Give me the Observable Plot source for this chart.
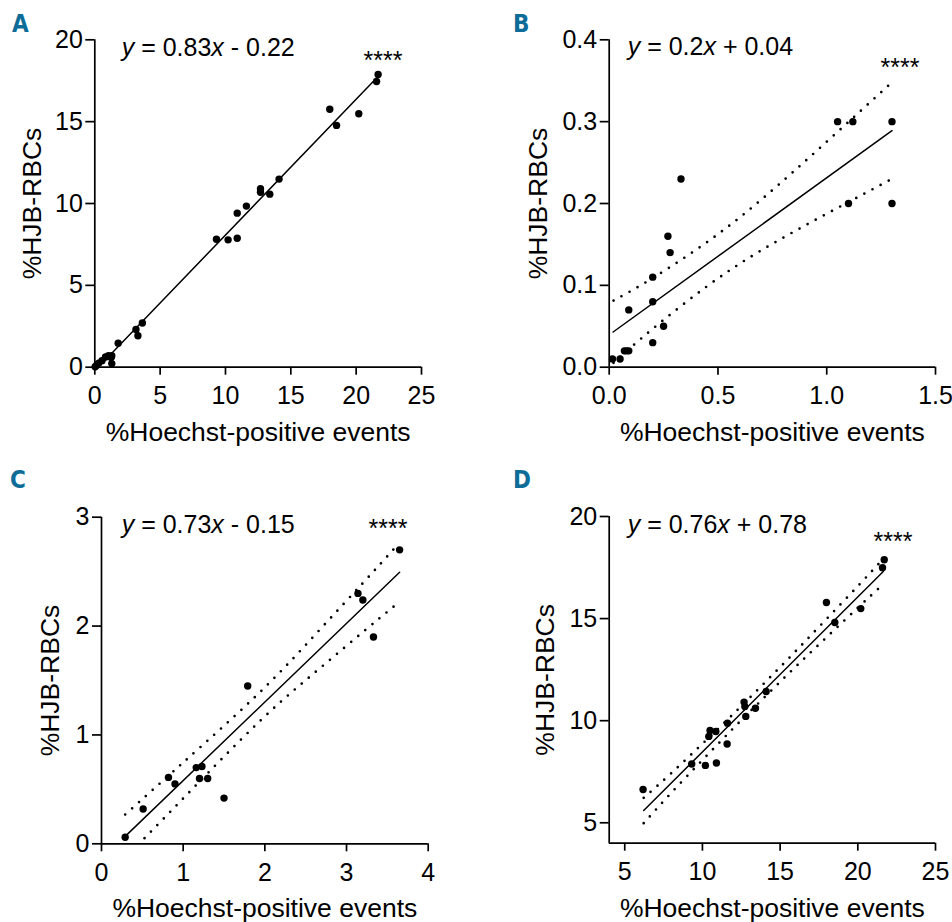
<!DOCTYPE html>
<html><head><meta charset="utf-8">
<script src="https://cdn.jsdelivr.net/npm/d3@7"></script>
<script src="https://cdn.jsdelivr.net/npm/@observablehq/plot@0.6"></script>
<style>
body{margin:0;background:#fff;}
#wrap{position:relative;width:952px;height:922px;overflow:hidden;background:#fff;}
.panel{position:absolute;}
#letters{position:absolute;left:0;top:0;pointer-events:none;}
</style></head><body><div id="wrap"></div>
<script>
// ---------- Data ----------
const xLabel = "%Hoechst-positive events";
const yLabel = "%HJB-RBCs";
const panelLetters = ["A", "B", "C", "D"];
const stars = "****";

// Panel A
const aX = [21.68, 21.56, 17.98, 18.50, 20.20, 14.10, 12.68, 12.68, 13.39, 11.60, 10.90, 9.31, 10.20, 10.90, 3.64, 3.15, 3.30, 1.79, 1.30, 1.05, 0.82, 1.25, 1.30, 0.55, 0.30, 0.15, 0.03];
const aY = [17.88, 17.45, 15.76, 14.77, 15.48, 11.49, 10.90, 10.69, 10.57, 9.84, 9.41, 7.82, 7.78, 7.88, 2.70, 2.30, 1.92, 1.47, 0.70, 0.71, 0.62, 0.60, 0.22, 0.40, 0.25, 0.12, 0.03];
const aLineX = [0.27, 21.6];
const aLineY = [0.0, 17.7];
const aXTicks = [0, 5, 10, 15, 20, 25];
const aXTickLabels = ["0", "5", "10", "15", "20", "25"];
const aYTicks = [0, 5, 10, 15, 20];
const aYTickLabels = ["0", "5", "10", "15", "20"];
const aEq = [["y", true], [" = 0.83", false], ["x", true], [" - 0.22", false]];

// Panel B
const bX = [1.05, 1.12, 1.30, 1.10, 1.30, 0.33, 0.27, 0.28, 0.20, 0.20, 0.09, 0.25, 0.20, 0.07, 0.08, 0.09, 0.015, 0.05];
const bY = [0.30, 0.30, 0.30, 0.20, 0.20, 0.23, 0.16, 0.14, 0.11, 0.08, 0.07, 0.05, 0.03, 0.02, 0.02, 0.02, 0.01, 0.01];
const bLineX = [0.018, 1.30];
const bLineY = [0.043, 0.289];
const bBandX = [0.02, 0.2, 0.45, 0.7, 1.0, 1.3];
const bBandLo = [0.0054, 0.0469, 0.0989, 0.1429, 0.1875, 0.2301];
const bBandHi = [0.0814, 0.1089, 0.1529, 0.2049, 0.2755, 0.3481];
const bXTicks = [0, 0.5, 1.0, 1.5];
const bXTickLabels = ["0.0", "0.5", "1.0", "1.5"];
const bYTicks = [0, 0.1, 0.2, 0.3, 0.4];
const bYTickLabels = ["0.0", "0.1", "0.2", "0.3", "0.4"];
const bEq = [["y", true], [" = 0.2", false], ["x", true], [" + 0.04", false]];

// Panel C
const cX = [3.65, 3.14, 3.20, 3.33, 1.79, 0.82, 0.90, 1.16, 1.23, 1.20, 1.30, 1.50, 0.51, 0.29];
const cY = [2.70, 2.30, 2.24, 1.90, 1.45, 0.61, 0.55, 0.70, 0.71, 0.60, 0.60, 0.42, 0.32, 0.06];
const cLineX = [0.29, 3.65];
const cLineY = [0.068, 2.494];
const cBandX = [0.29, 0.8, 1.2, 1.7, 2.2, 2.7, 3.2, 3.62];
const cBandLo = [-0.131, 0.262, 0.571, 0.952, 1.308, 1.629, 1.945, 2.205];
const cBandHi = [0.269, 0.612, 0.881, 1.222, 1.588, 1.989, 2.395, 2.741];
const cXTicks = [0, 1, 2, 3, 4];
const cXTickLabels = ["0", "1", "2", "3", "4"];
const cYTicks = [0, 1, 2, 3];
const cYTickLabels = ["0", "1", "2", "3"];
const cEq = [["y", true], [" = 0.73", false], ["x", true], [" - 0.15", false]];

// Panel D
const dX = [21.70, 21.59, 17.98, 18.52, 20.19, 14.10, 12.68, 12.73, 12.79, 13.41, 11.61, 11.59, 10.49, 10.41, 10.86, 9.31, 10.19, 10.90, 6.18];
const dY = [17.88, 17.49, 15.79, 14.81, 15.49, 11.43, 10.91, 10.69, 10.21, 10.61, 9.88, 8.86, 9.52, 9.23, 9.47, 7.88, 7.81, 7.93, 6.63];
const dLineX = [6.22, 21.64];
const dLineY = [5.60, 17.31];
const dBandX = [6.22, 8, 10, 12, 14, 16, 18, 20, 21.64];
const dBandLo = [4.98, 6.471, 8.069, 9.637, 11.155, 12.643, 14.091, 15.529, 16.684];
const dBandHi = [6.22, 7.431, 8.869, 10.337, 11.855, 13.403, 14.991, 16.589, 17.924];
const dXTicks = [5, 10, 15, 20, 25];
const dXTickLabels = ["5", "10", "15", "20", "25"];
const dYTicks = [5, 10, 15, 20];
const dYTickLabels = ["5", "10", "15", "20"];
const dEq = [["y", true], [" = 0.76", false], ["x", true], [" + 0.78", false]];

// ---------- Drawing ----------
const FONT = "'Liberation Sans', Arial, Helvetica, sans-serif";
const wrap = document.getElementById("wrap");

function zip(xs, ys) { return xs.map((x, i) => ({x, y: ys[i]})); }

function panel(cfg) {
  const m = cfg.margin;
  const marks = [
    Plot.ruleX([cfg.xDomain[0]], {y1: cfg.yDomain[0], y2: cfg.yDomain[1], strokeWidth: 1.7}),
    Plot.ruleY([cfg.yDomain[0]], {x1: cfg.xDomain[0], x2: cfg.xDomain[1], strokeWidth: 1.7}),
    Plot.axisX({ticks: cfg.xTicks, tickSize: 8, tickPadding: 11, strokeWidth: 1.7, fontSize: 25,
      tickFormat: d => cfg.xTickLabels[cfg.xTicks.indexOf(d)], label: null}),
    Plot.axisY({ticks: cfg.yTicks, tickSize: 9, tickPadding: 3, strokeWidth: 1.7, fontSize: 25,
      tickFormat: d => cfg.yTickLabels[cfg.yTicks.indexOf(d)], label: null})
  ];
  if (cfg.bandX) {
    const dotted = {x: "x", y: "y", curve: "natural", stroke: "black", strokeWidth: 2.7,
      strokeDasharray: "0 9.2", strokeLinecap: "round", clip: true};
    marks.push(Plot.line(zip(cfg.bandX, cfg.bandHi), dotted));
    marks.push(Plot.line(zip(cfg.bandX, cfg.bandLo), dotted));
  }
  marks.push(Plot.line(zip(cfg.lineX, cfg.lineY), {x: "x", y: "y", stroke: "black", strokeWidth: 1.5, clip: true}));
  marks.push(Plot.dot(zip(cfg.x, cfg.y), {x: "x", y: "y", r: 3.7, fill: "black", stroke: null}));
  marks.push(Plot.text([xLabel], {text: d => d, frameAnchor: "bottom", lineAnchor: "bottom", textAnchor: "middle",
    dy: 73.4, fontSize: 26.5}));
  marks.push(Plot.text([yLabel], {text: d => d, frameAnchor: "left", textAnchor: "middle", lineAnchor: "middle",
    rotate: -90, dx: cfg.yLabelDx, fontSize: 26.5}));
  marks.push(Plot.text([stars], {text: d => d, frameAnchor: "top-right", textAnchor: "end", lineAnchor: "bottom",
    dx: cfg.starDx, dy: cfg.starDy, fontSize: 25}));

  const svg = Plot.plot({
    width: cfg.w, height: cfg.h,
    marginLeft: m[0], marginRight: m[1], marginTop: m[2], marginBottom: m[3],
    x: {domain: cfg.xDomain},
    y: {domain: cfg.yDomain},
    style: {fontFamily: FONT, fontSize: "25px", color: "black", background: "white", overflow: "visible"},
    marks
  });
  const t = d3.select(svg).append("text")
    .attr("x", m[0] + cfg.eqDx).attr("y", m[2] + cfg.eqDy)
    .attr("text-anchor", "start")
    .attr("font-size", 25).attr("font-family", FONT).attr("fill", "black")
    .style("white-space", "pre");
  cfg.eq.forEach(([s, it]) => t.append("tspan").attr("font-style", it ? "italic" : null).text(s));
  const div = document.createElement("div");
  div.className = "panel";
  div.style.left = cfg.left + "px";
  div.style.top = cfg.top + "px";
  div.appendChild(svg);
  wrap.appendChild(div);
}

panel({left: 0, top: 0, w: 476, h: 461, margin: [94.3, 55, 39.3, 94.3],
  x: aX, y: aY, lineX: aLineX, lineY: aLineY,
  xDomain: [0, 25], yDomain: [0, 20],
  xTicks: aXTicks, xTickLabels: aXTickLabels, yTicks: aYTicks, yTickLabels: aYTickLabels,
  eq: aEq, eqDx: 27.4, eqDy: 16.7, yLabelDx: -62, starDx: -19, starDy: 28.7});

panel({left: 476, top: 0, w: 476, h: 461, margin: [132.7, 17, 39.3, 94.3],
  x: bX, y: bY, lineX: bLineX, lineY: bLineY, bandX: bBandX, bandLo: bBandLo, bandHi: bBandHi,
  xDomain: [0, 1.5], yDomain: [0, 0.4],
  xTicks: bXTicks, xTickLabels: bXTickLabels, yTicks: bYTicks, yTickLabels: bYTickLabels,
  eq: bEq, eqDx: 19, eqDy: 15.7, yLabelDx: -71, starDx: -16, starDy: 35.7});

panel({left: 0, top: 461, w: 476, h: 461, margin: [101, 48.3, 55.7, 78.7],
  x: cX, y: cY, lineX: cLineX, lineY: cLineY, bandX: cBandX, bandLo: cBandLo, bandHi: cBandHi,
  xDomain: [0, 4], yDomain: [0, 3],
  xTicks: cXTicks, xTickLabels: cXTickLabels, yTicks: cYTicks, yTickLabels: cYTickLabels,
  eq: cEq, eqDx: 20.7, eqDy: 15.8, yLabelDx: -51, starDx: -20.7, starDy: 19.3});

panel({left: 476, top: 461, w: 476, h: 461, margin: [132.7, 17, 55, 79.3],
  x: dX, y: dY, lineX: dLineX, lineY: dLineY, bandX: dBandX, bandLo: dBandLo, bandHi: dBandHi,
  xDomain: [4, 25], yDomain: [4, 20],
  xTicks: dXTicks, xTickLabels: dXTickLabels, yTicks: dYTicks, yTickLabels: dYTickLabels,
  eq: dEq, eqDx: 19, eqDy: 16.5, yLabelDx: -64, starDx: -23, starDy: 33});

// Panel letters
const letterPos = [[12, 32], [513, 32], [10, 488], [513, 488]];
const ov = d3.select(wrap).append("svg").attr("id", "letters").attr("width", 952).attr("height", 922);
ov.selectAll("text").data(panelLetters).join("text")
  .attr("x", (d, i) => letterPos[i][0]).attr("y", (d, i) => letterPos[i][1])
  .attr("font-family", "'Liberation Sans Narrow', 'DejaVu Sans Condensed', 'Roboto Condensed', sans-serif")
  .attr("font-weight", "bold").attr("font-size", 24).attr("fill", "#0e6d98")
  .text(d => d);
</script>
</body></html>
